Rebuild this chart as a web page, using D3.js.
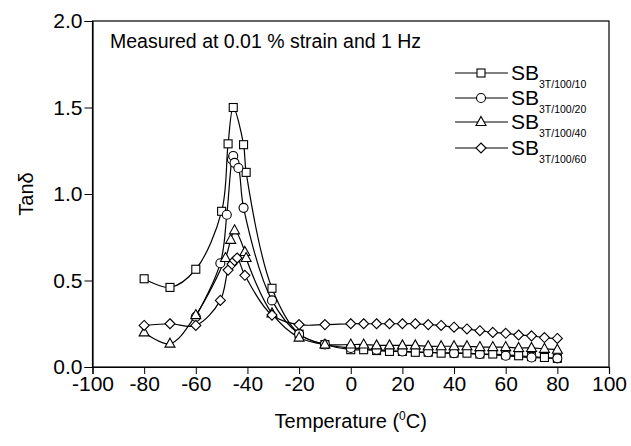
<!DOCTYPE html>
<head>
  <meta charset="utf-8" />
  <script src="https://d3js.org/d3.v7.min.js"></script>
  <style>
    body { margin: 0; background: #fff; }
    svg { font-family: "Liberation Sans", Arial, sans-serif; }
  </style>
</head>
<body>
  <div id="chart"></div>
  <script>
    // donnees
    const temp10 = [-80, -70, -60, -50, -47.5, -45.5, -41.5, -40.5, -30.5, -20, -10, 0, 5, 10, 15, 20, 25, 30, 35, 40, 45, 50, 55, 60, 65, 70, 75, 80];
    const tan10 = [0.51, 0.46, 0.565, 0.90, 1.29, 1.50, 1.285, 1.125, 0.455, 0.19, 0.13, 0.10, 0.10, 0.095, 0.09, 0.09, 0.085, 0.085, 0.08, 0.08, 0.08, 0.075, 0.075, 0.07, 0.065, 0.06, 0.055, 0.05];

    const temp20 = [-60, -50.5, -48, -46, -45.5, -45, -43.5, -41.5, -30.5, -20, -10, 0, 10, 20, 30, 40, 50, 60, 70, 80];
    const tan20 = [0.29, 0.60, 0.88, 1.20, 1.22, 1.18, 1.15, 0.92, 0.385, 0.19, 0.13, 0.11, 0.10, 0.09, 0.085, 0.08, 0.075, 0.065, 0.055, 0.05];

    const temp40 = [-80, -70, -60, -48.5, -46.5, -45, -41, -40.5, -30.5, -20, -10, 0, 5, 10, 15, 20, 25, 30, 35, 40, 45, 50, 55, 60, 65, 70, 75, 80];
    const tan40 = [0.20, 0.135, 0.30, 0.63, 0.735, 0.79, 0.665, 0.63, 0.31, 0.17, 0.13, 0.13, 0.13, 0.125, 0.125, 0.125, 0.125, 0.12, 0.12, 0.12, 0.12, 0.115, 0.115, 0.115, 0.11, 0.11, 0.105, 0.10];

    const temp60 = [-80, -70, -60, -50.5, -47.5, -46, -45, -44, -41, -30.5, -20, -10, 0, 5, 10, 15, 20, 25, 30, 35, 40, 45, 50, 55, 60, 65, 70, 75, 80];
    const tan60 = [0.24, 0.25, 0.24, 0.385, 0.56, 0.595, 0.615, 0.63, 0.53, 0.30, 0.245, 0.245, 0.25, 0.25, 0.25, 0.25, 0.25, 0.25, 0.245, 0.24, 0.23, 0.22, 0.21, 0.20, 0.195, 0.185, 0.18, 0.17, 0.165];

    const seriesNames = ["3T/100/10", "3T/100/20", "3T/100/40", "3T/100/60"];
    const markers = ["square", "circle", "triangle", "diamond"];

    const xTicks = [-100, -80, -60, -40, -20, 0, 20, 40, 60, 80, 100];
    const yTicks = [0, 0.5, 1.0, 1.5, 2.0];

    const width = 631, height = 446;
    const margin = { top: 21, right: 22, bottom: 79, left: 92.5 };

    const svg = d3.select("#chart").append("svg")
      .attr("width", width)
      .attr("height", height);

    const x = d3.scaleLinear().domain([-100, 100]).range([margin.left, width - margin.right]);
    const y = d3.scaleLinear().domain([0, 2]).range([height - margin.bottom, margin.top]);

    // cadre
    svg.append("rect")
      .attr("x", x(-100)).attr("y", y(2))
      .attr("width", x(100) - x(-100)).attr("height", y(0) - y(2))
      .attr("fill", "none").attr("stroke", "#000").attr("stroke-width", 1.2);

    // axes (majeurs + mineurs)
    const gx = svg.append("g").attr("transform", "translate(0," + y(0) + ")");
    gx.call(d3.axisBottom(x).tickValues(d3.range(-90, 100, 20)).tickSize(4).tickFormat(""));
    gx.call(d3.axisBottom(x).tickValues(xTicks).tickSize(7).tickPadding(2).tickFormat(function (d) { return String(d); }));
    gx.selectAll(".domain").attr("stroke-width", 1.2);
    gx.selectAll("text").style("font-size", "21px").attr("fill", "#000");

    const gy = svg.append("g").attr("transform", "translate(" + x(-100) + ",0)");
    gy.call(d3.axisLeft(y).tickValues([0.25, 0.75, 1.25, 1.75]).tickSize(5).tickFormat(""));
    gy.call(d3.axisLeft(y).tickValues(yTicks).tickSize(8).tickPadding(2).tickFormat(d3.format(".1f")));
    gy.selectAll(".domain").attr("stroke-width", 1.2);
    gy.selectAll("text").style("font-size", "21px").attr("fill", "#000");

    // titres
    svg.append("text")
      .attr("x", (x(-100) + x(100)) / 2).attr("y", 428)
      .attr("text-anchor", "middle").style("font-size", "20px")
      .html('Temperature (<tspan dy="-8" style="font-size:12px">0</tspan><tspan dy="8">C)</tspan>');

    svg.append("text")
      .attr("transform", "translate(33," + y(1) + ") rotate(-90)")
      .attr("text-anchor", "middle").style("font-size", "20px")
      .text("Tanδ");

    svg.append("text")
      .attr("x", 110).attr("y", 48)
      .style("font-size", "19.5px")
      .text("Measured at 0.01 % strain and 1 Hz");

    // symboles
    function drawMarker(g, type, cx, cy) {
      if (type === "square") {
        g.append("rect").attr("x", cx - 4).attr("y", cy - 4).attr("width", 8).attr("height", 8);
      } else if (type === "circle") {
        g.append("circle").attr("cx", cx).attr("cy", cy).attr("r", 4.5);
      } else if (type === "triangle") {
        g.append("path").attr("d", "M" + cx + "," + (cy - 5.5) + "L" + (cx + 5) + "," + (cy + 3.5) + "L" + (cx - 5) + "," + (cy + 3.5) + "Z");
      } else {
        g.append("path").attr("d", "M" + cx + "," + (cy - 5) + "L" + (cx + 5) + "," + cy + "L" + cx + "," + (cy + 5) + "L" + (cx - 5) + "," + cy + "Z");
      }
    }

    const series = [
      { t: temp10, v: tan10 },
      { t: temp20, v: tan20 },
      { t: temp40, v: tan40 },
      { t: temp60, v: tan60 }
    ];

    const line = d3.line()
      .x(function (d) { return x(d[0]); })
      .y(function (d) { return y(d[1]); })
      .curve(d3.curveCatmullRom.alpha(0.5));

    series.forEach(function (s) {
      const pts = s.t.map(function (t, i) { return [t, s.v[i]]; });
      svg.append("path")
        .datum(pts)
        .attr("d", line)
        .attr("fill", "none")
        .attr("stroke", "#000")
        .attr("stroke-width", 1.2);
    });

    series.forEach(function (s, k) {
      const g = svg.append("g").attr("fill", "#fff").attr("stroke", "#000").attr("stroke-width", 1.1);
      s.t.forEach(function (t, i) {
        drawMarker(g, markers[k], x(t), y(s.v[i]));
      });
    });

    // legende
    const legY = [73, 98, 122, 148];
    seriesNames.forEach(function (name, k) {
      const g = svg.append("g");
      g.append("line")
        .attr("x1", 455).attr("x2", 508)
        .attr("y1", legY[k]).attr("y2", legY[k])
        .attr("stroke", "#000").attr("stroke-width", 1.2);
      const mg = g.append("g").attr("fill", "#fff").attr("stroke", "#000").attr("stroke-width", 1.1);
      drawMarker(mg, markers[k], 481, legY[k]);
      g.append("text")
        .attr("x", 511).attr("y", legY[k] + 7)
        .style("font-size", "21px")
        .html('SB<tspan dy="8" style="font-size:10.5px">' + name + '</tspan>');
    });
  </script>
</body>
